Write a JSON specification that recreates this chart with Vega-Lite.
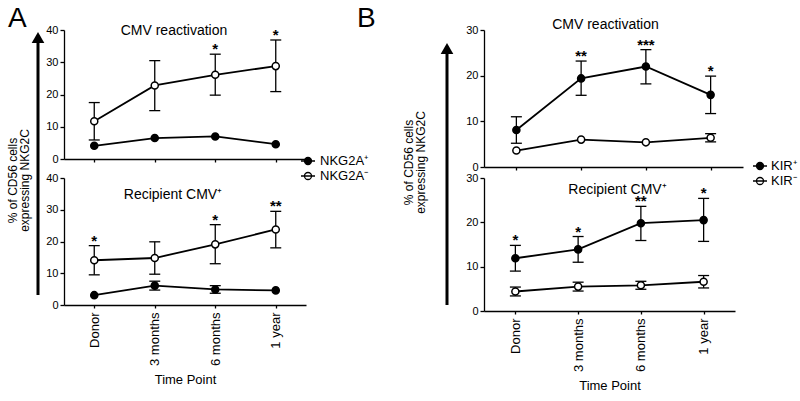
{
  "$schema": "https://vega.github.io/schema/vega-lite/v6.json",
  "padding": {"left": 6, "top": 5, "right": 5, "bottom": 5},
  "background": "white",
  "config": {
    "font": "Liberation Sans",
    "view": {"stroke": null},
    "axis": {"grid": false, "domainColor": "black", "tickColor": "black", "labelColor": "black", "titleColor": "black", "domainWidth": 1.3, "tickWidth": 1.3, "labelFont": "Liberation Sans", "titleFont": "Liberation Sans", "titleFontWeight": "normal"},
    "title": {"font": "Liberation Sans", "fontWeight": "normal", "color": "black"},
    "legend": {"labelFont": "Liberation Sans", "labelColor": "black"}
  },
  "datasets": {
    "A_top": [
      {"time": "Donor", "group": "NKG2A⁺", "mean": 4.1, "lo": null, "hi": null, "star": ""},
      {"time": "3 months", "group": "NKG2A⁺", "mean": 6.5, "lo": null, "hi": null, "star": ""},
      {"time": "6 months", "group": "NKG2A⁺", "mean": 7.0, "lo": null, "hi": null, "star": ""},
      {"time": "1 year", "group": "NKG2A⁺", "mean": 4.6, "lo": null, "hi": null, "star": ""},
      {"time": "Donor", "group": "NKG2A⁻", "mean": 11.7, "lo": 5.9, "hi": 17.5, "star": ""},
      {"time": "3 months", "group": "NKG2A⁻", "mean": 22.8, "lo": 15.0, "hi": 30.5, "star": ""},
      {"time": "6 months", "group": "NKG2A⁻", "mean": 26.1, "lo": 19.8, "hi": 32.5, "star": "*"},
      {"time": "1 year", "group": "NKG2A⁻", "mean": 28.8, "lo": 20.9, "hi": 36.9, "star": "*"}
    ],
    "A_bottom": [
      {"time": "Donor", "group": "NKG2A⁺", "mean": 3.1, "lo": null, "hi": null, "star": ""},
      {"time": "3 months", "group": "NKG2A⁺", "mean": 6.1, "lo": 4.7, "hi": 7.5, "star": ""},
      {"time": "6 months", "group": "NKG2A⁺", "mean": 4.9, "lo": 3.7, "hi": 6.1, "star": ""},
      {"time": "1 year", "group": "NKG2A⁺", "mean": 4.6, "lo": null, "hi": null, "star": ""},
      {"time": "Donor", "group": "NKG2A⁻", "mean": 14.1, "lo": 9.5, "hi": 18.7, "star": "*"},
      {"time": "3 months", "group": "NKG2A⁻", "mean": 14.8, "lo": 9.7, "hi": 19.9, "star": ""},
      {"time": "6 months", "group": "NKG2A⁻", "mean": 19.1, "lo": 13.0, "hi": 25.3, "star": "*"},
      {"time": "1 year", "group": "NKG2A⁻", "mean": 23.8, "lo": 18.0, "hi": 29.5, "star": "**"}
    ],
    "B_top": [
      {"time": "Donor", "group": "KIR⁺", "mean": 8.1, "lo": 5.2, "hi": 11.0, "star": ""},
      {"time": "3 months", "group": "KIR⁺", "mean": 19.4, "lo": 15.7, "hi": 23.2, "star": "**"},
      {"time": "6 months", "group": "KIR⁺", "mean": 22.0, "lo": 18.2, "hi": 25.7, "star": "***"},
      {"time": "1 year", "group": "KIR⁺", "mean": 15.8, "lo": 11.7, "hi": 19.9, "star": "*"},
      {"time": "Donor", "group": "KIR⁻", "mean": 3.6, "lo": null, "hi": null, "star": ""},
      {"time": "3 months", "group": "KIR⁻", "mean": 6.0, "lo": null, "hi": null, "star": ""},
      {"time": "6 months", "group": "KIR⁻", "mean": 5.4, "lo": null, "hi": null, "star": ""},
      {"time": "1 year", "group": "KIR⁻", "mean": 6.4, "lo": 5.5, "hi": 7.3, "star": ""}
    ],
    "B_bottom": [
      {"time": "Donor", "group": "KIR⁺", "mean": 11.9, "lo": 9.0, "hi": 14.8, "star": "*"},
      {"time": "3 months", "group": "KIR⁺", "mean": 13.9, "lo": 11.0, "hi": 16.8, "star": "*"},
      {"time": "6 months", "group": "KIR⁺", "mean": 19.8, "lo": 15.9, "hi": 23.6, "star": "**"},
      {"time": "1 year", "group": "KIR⁺", "mean": 20.5, "lo": 15.7, "hi": 25.4, "star": "*"},
      {"time": "Donor", "group": "KIR⁻", "mean": 4.4, "lo": 3.4, "hi": 5.4, "star": ""},
      {"time": "3 months", "group": "KIR⁻", "mean": 5.5, "lo": 4.5, "hi": 6.5, "star": ""},
      {"time": "6 months", "group": "KIR⁻", "mean": 5.8, "lo": 4.9, "hi": 6.7, "star": ""},
      {"time": "1 year", "group": "KIR⁻", "mean": 6.6, "lo": 5.2, "hi": 8.0, "star": ""}
    ]
  },
  "columns": 5,
  "align": "each",
  "bounds": "flush",
  "spacing": {"row": 11, "column": 10},
  "resolve": {"scale": {"fill": "independent", "x": "independent", "y": "independent"}, "legend": {"fill": "independent"}},
  "concat": [
    {
      "width": 32, "height": 100,
      "data": {"values": [{}]},
      "title": {"text": "A", "fontSize": 28, "anchor": "start", "frame": "group", "dx": -14, "offset": -25, "baseline": "alphabetic"},
      "layer": [
        {"mark": {"type": "rule", "strokeWidth": 3, "color": "black"},
         "encoding": {"y": {"datum": -165, "type": "quantitative", "scale": {"domain": [0, 100], "nice": false, "zero": false},
           "axis": {"title": ["% of CD56 cells", "expressing NKG2C"], "titleFontSize": 12, "titleLineHeight": 12, "titleBaseline": "top", "titleAngle": 270, "labels": false, "ticks": false, "domain": false, "titleX": -15, "titleY": 150}},
           "y2": {"datum": 92.5}}},
        {"mark": {"type": "point", "shape": "triangle-up", "filled": true, "size": 160, "color": "black", "opacity": 1},
         "encoding": {"y": {"datum": 92.5, "type": "quantitative"}}}
      ]
    },
    {
      "width": 242, "height": 129,
      "data": {"name": "A_top"},
      "title": {"text": "CMV reactivation", "fontSize": 14, "baseline": "middle", "offset": -21, "dx": -11},
      "encoding": {"x": {"field": "time", "type": "ordinal", "sort": ["Donor", "3 months", "6 months", "1 year"], "scale": {"type": "point", "padding": 0.5}, "axis": {"labels": false, "title": null, "tickSize": 3}}},
      "layer": [
        {"mark": {"type": "line", "color": "black", "strokeWidth": 1.8},
         "encoding": {"y": {"field": "mean", "type": "quantitative", "scale": {"domain": [0, 40]}, "axis": {"values": [0, 10, 20, 30, 40], "tickSize": 4, "labelFontSize": 11, "labelPadding": 2, "title": null}}, "detail": {"field": "group"}}},
        {"mark": {"type": "rule", "color": "black", "strokeWidth": 1.3},
         "encoding": {"y": {"field": "lo", "type": "quantitative", "axis": {"values": [0, 10, 20, 30, 40], "tickSize": 4, "labelFontSize": 11, "labelPadding": 2, "title": null}}, "y2": {"field": "hi"}}},
        {"mark": {"type": "tick", "color": "black", "orient": "horizontal", "size": 11, "thickness": 1.3, "opacity": 1},
         "encoding": {"y": {"field": "hi", "type": "quantitative", "axis": {"values": [0, 10, 20, 30, 40], "tickSize": 4, "labelFontSize": 11, "labelPadding": 2, "title": null}}}},
        {"mark": {"type": "tick", "color": "black", "orient": "horizontal", "size": 11, "thickness": 1.3, "opacity": 1},
         "encoding": {"y": {"field": "lo", "type": "quantitative", "axis": {"values": [0, 10, 20, 30, 40], "tickSize": 4, "labelFontSize": 11, "labelPadding": 2, "title": null}}}},
        {"mark": {"type": "point", "filled": true, "size": 50, "stroke": "black", "strokeWidth": 1.5, "opacity": 1},
         "encoding": {"y": {"field": "mean", "type": "quantitative", "axis": {"values": [0, 10, 20, 30, 40], "tickSize": 4, "labelFontSize": 11, "labelPadding": 2, "title": null}},
           "fill": {"field": "group", "type": "nominal", "scale": {"domain": ["NKG2A⁺", "NKG2A⁻"], "range": ["black", "white"]},
             "legend": {"title": null, "orient": "none", "legendX": 236, "legendY": 123, "padding": 0, "rowPadding": 0, "labelFontSize": 13, "labelOffset": 4,
               "symbolType": "M-1,0L1,0M-0.5,0A0.5,0.5,0,1,1,0.5,0A0.5,0.5,0,1,1,-0.5,0Z", "symbolSize": 196, "symbolStrokeColor": "black", "symbolStrokeWidth": 1.3}}}},
        {"mark": {"type": "text", "fontSize": 15, "fontWeight": "bold", "baseline": "alphabetic", "color": "black"},
         "encoding": {"y": {"field": "hi", "type": "quantitative", "axis": {"values": [0, 10, 20, 30, 40], "tickSize": 4, "labelFontSize": 11, "labelPadding": 2, "title": null}}, "text": {"field": "star"}}}
      ]
    },
    {"width": 94, "height": 1, "data": {"values": []}, "mark": "point"},
    {
      "width": 54, "height": 100,
      "data": {"values": [{}]},
      "title": {"text": "B", "fontSize": 28, "anchor": "start", "frame": "group", "dx": -63, "offset": -25, "baseline": "alphabetic"},
      "layer": [
        {"mark": {"type": "rule", "strokeWidth": 3, "color": "black"},
         "encoding": {"y": {"datum": -175, "type": "quantitative", "scale": {"domain": [0, 100], "nice": false, "zero": false},
           "axis": {"title": ["% of CD56 cells", "expressing NKG2C"], "titleFontSize": 12, "titleLineHeight": 12, "titleBaseline": "top", "titleAngle": 270, "labels": false, "ticks": false, "domain": false, "titleX": -17, "titleY": 132}},
           "y2": {"datum": 81.5}}},
        {"mark": {"type": "point", "shape": "triangle-up", "filled": true, "size": 160, "color": "black", "opacity": 1},
         "encoding": {"y": {"datum": 81.5, "type": "quantitative"}}}
      ]
    },
    {
      "width": 259, "height": 137,
      "data": {"name": "B_top"},
      "title": {"text": "CMV reactivation", "fontSize": 14, "baseline": "middle", "offset": -15, "dx": -8},
      "encoding": {"x": {"field": "time", "type": "ordinal", "sort": ["Donor", "3 months", "6 months", "1 year"], "scale": {"type": "point", "padding": 0.5}, "axis": {"labels": false, "title": null, "tickSize": 3}}},
      "layer": [
        {"mark": {"type": "line", "color": "black", "strokeWidth": 1.8},
         "encoding": {"y": {"field": "mean", "type": "quantitative", "scale": {"domain": [0, 30]}, "axis": {"values": [0, 10, 20, 30], "tickSize": 4, "labelFontSize": 11, "labelPadding": 2, "title": null}}, "detail": {"field": "group"}}},
        {"mark": {"type": "rule", "color": "black", "strokeWidth": 1.3},
         "encoding": {"y": {"field": "lo", "type": "quantitative", "axis": {"values": [0, 10, 20, 30], "tickSize": 4, "labelFontSize": 11, "labelPadding": 2, "title": null}}, "y2": {"field": "hi"}}},
        {"mark": {"type": "tick", "color": "black", "orient": "horizontal", "size": 11, "thickness": 1.3, "opacity": 1},
         "encoding": {"y": {"field": "hi", "type": "quantitative", "axis": {"values": [0, 10, 20, 30], "tickSize": 4, "labelFontSize": 11, "labelPadding": 2, "title": null}}}},
        {"mark": {"type": "tick", "color": "black", "orient": "horizontal", "size": 11, "thickness": 1.3, "opacity": 1},
         "encoding": {"y": {"field": "lo", "type": "quantitative", "axis": {"values": [0, 10, 20, 30], "tickSize": 4, "labelFontSize": 11, "labelPadding": 2, "title": null}}}},
        {"mark": {"type": "point", "filled": true, "size": 50, "stroke": "black", "strokeWidth": 1.5, "opacity": 1},
         "encoding": {"y": {"field": "mean", "type": "quantitative", "axis": {"values": [0, 10, 20, 30], "tickSize": 4, "labelFontSize": 11, "labelPadding": 2, "title": null}},
           "fill": {"field": "group", "type": "nominal", "scale": {"domain": ["KIR⁺", "KIR⁻"], "range": ["black", "white"]},
             "legend": {"title": null, "orient": "none", "legendX": 268, "legendY": 128, "padding": 0, "rowPadding": 0, "labelFontSize": 13, "labelOffset": 3,
               "symbolType": "M-1,0L1,0M-0.5,0A0.5,0.5,0,1,1,0.5,0A0.5,0.5,0,1,1,-0.5,0Z", "symbolSize": 196, "symbolStrokeColor": "black", "symbolStrokeWidth": 1.3}}}},
        {"mark": {"type": "text", "fontSize": 15, "fontWeight": "bold", "baseline": "alphabetic", "color": "black"},
         "encoding": {"y": {"field": "hi", "type": "quantitative", "axis": {"values": [0, 10, 20, 30], "tickSize": 4, "labelFontSize": 11, "labelPadding": 2, "title": null}}, "text": {"field": "star"}}}
      ]
    },
    {"width": 1, "height": 1, "data": {"values": []}, "mark": "point"},
    {
      "width": 242, "height": 127,
      "data": {"name": "A_bottom"},
      "title": {"text": "Recipient CMV⁺", "fontSize": 14, "baseline": "middle", "offset": -37, "dx": -12},
      "encoding": {"x": {"field": "time", "type": "ordinal", "sort": ["Donor", "3 months", "6 months", "1 year"], "scale": {"type": "point", "padding": 0.5}, "axis": {"labelAngle": -90, "labelFontSize": 13, "labelPadding": 4, "title": "Time Point", "titleFontSize": 13, "titlePadding": 8, "tickSize": 3}}},
      "layer": [
        {"mark": {"type": "line", "color": "black", "strokeWidth": 1.8},
         "encoding": {"y": {"field": "mean", "type": "quantitative", "scale": {"domain": [0, 40]}, "axis": {"values": [0, 10, 20, 30, 40], "tickSize": 4, "labelFontSize": 11, "labelPadding": 2, "title": null}}, "detail": {"field": "group"}}},
        {"mark": {"type": "rule", "color": "black", "strokeWidth": 1.3},
         "encoding": {"y": {"field": "lo", "type": "quantitative", "axis": {"values": [0, 10, 20, 30, 40], "tickSize": 4, "labelFontSize": 11, "labelPadding": 2, "title": null}}, "y2": {"field": "hi"}}},
        {"mark": {"type": "tick", "color": "black", "orient": "horizontal", "size": 11, "thickness": 1.3, "opacity": 1},
         "encoding": {"y": {"field": "hi", "type": "quantitative", "axis": {"values": [0, 10, 20, 30, 40], "tickSize": 4, "labelFontSize": 11, "labelPadding": 2, "title": null}}}},
        {"mark": {"type": "tick", "color": "black", "orient": "horizontal", "size": 11, "thickness": 1.3, "opacity": 1},
         "encoding": {"y": {"field": "lo", "type": "quantitative", "axis": {"values": [0, 10, 20, 30, 40], "tickSize": 4, "labelFontSize": 11, "labelPadding": 2, "title": null}}}},
        {"mark": {"type": "point", "filled": true, "size": 50, "stroke": "black", "strokeWidth": 1.5, "opacity": 1},
         "encoding": {"y": {"field": "mean", "type": "quantitative", "axis": {"values": [0, 10, 20, 30, 40], "tickSize": 4, "labelFontSize": 11, "labelPadding": 2, "title": null}},
           "fill": {"field": "group", "type": "nominal", "scale": {"domain": ["NKG2A⁺", "NKG2A⁻"], "range": ["black", "white"]}, "legend": null}}},
        {"mark": {"type": "text", "fontSize": 15, "fontWeight": "bold", "baseline": "alphabetic", "color": "black"},
         "encoding": {"y": {"field": "hi", "type": "quantitative", "axis": {"values": [0, 10, 20, 30, 40], "tickSize": 4, "labelFontSize": 11, "labelPadding": 2, "title": null}}, "text": {"field": "star"}}}
      ]
    },
    {"width": 1, "height": 1, "data": {"values": []}, "mark": "point"},
    {"width": 1, "height": 1, "data": {"values": []}, "mark": "point"},
    {
      "width": 251, "height": 133,
      "data": {"name": "B_bottom"},
      "title": {"text": "Recipient CMV⁺", "fontSize": 14, "baseline": "middle", "offset": -32, "dx": 8},
      "encoding": {"x": {"field": "time", "type": "ordinal", "sort": ["Donor", "3 months", "6 months", "1 year"], "scale": {"type": "point", "padding": 0.5}, "axis": {"labelAngle": -90, "labelFontSize": 13, "labelPadding": 4, "title": "Time Point", "titleFontSize": 13, "titlePadding": 8, "tickSize": 3}}},
      "layer": [
        {"mark": {"type": "line", "color": "black", "strokeWidth": 1.8},
         "encoding": {"y": {"field": "mean", "type": "quantitative", "scale": {"domain": [0, 30]}, "axis": {"values": [0, 10, 20, 30], "tickSize": 4, "labelFontSize": 11, "labelPadding": 2, "title": null}}, "detail": {"field": "group"}}},
        {"mark": {"type": "rule", "color": "black", "strokeWidth": 1.3},
         "encoding": {"y": {"field": "lo", "type": "quantitative", "axis": {"values": [0, 10, 20, 30], "tickSize": 4, "labelFontSize": 11, "labelPadding": 2, "title": null}}, "y2": {"field": "hi"}}},
        {"mark": {"type": "tick", "color": "black", "orient": "horizontal", "size": 11, "thickness": 1.3, "opacity": 1},
         "encoding": {"y": {"field": "hi", "type": "quantitative", "axis": {"values": [0, 10, 20, 30], "tickSize": 4, "labelFontSize": 11, "labelPadding": 2, "title": null}}}},
        {"mark": {"type": "tick", "color": "black", "orient": "horizontal", "size": 11, "thickness": 1.3, "opacity": 1},
         "encoding": {"y": {"field": "lo", "type": "quantitative", "axis": {"values": [0, 10, 20, 30], "tickSize": 4, "labelFontSize": 11, "labelPadding": 2, "title": null}}}},
        {"mark": {"type": "point", "filled": true, "size": 50, "stroke": "black", "strokeWidth": 1.5, "opacity": 1},
         "encoding": {"y": {"field": "mean", "type": "quantitative", "axis": {"values": [0, 10, 20, 30], "tickSize": 4, "labelFontSize": 11, "labelPadding": 2, "title": null}},
           "fill": {"field": "group", "type": "nominal", "scale": {"domain": ["KIR⁺", "KIR⁻"], "range": ["black", "white"]}, "legend": null}}},
        {"mark": {"type": "text", "fontSize": 15, "fontWeight": "bold", "baseline": "alphabetic", "color": "black"},
         "encoding": {"y": {"field": "hi", "type": "quantitative", "axis": {"values": [0, 10, 20, 30], "tickSize": 4, "labelFontSize": 11, "labelPadding": 2, "title": null}}, "text": {"field": "star"}}}
      ]
    }
  ]
}
